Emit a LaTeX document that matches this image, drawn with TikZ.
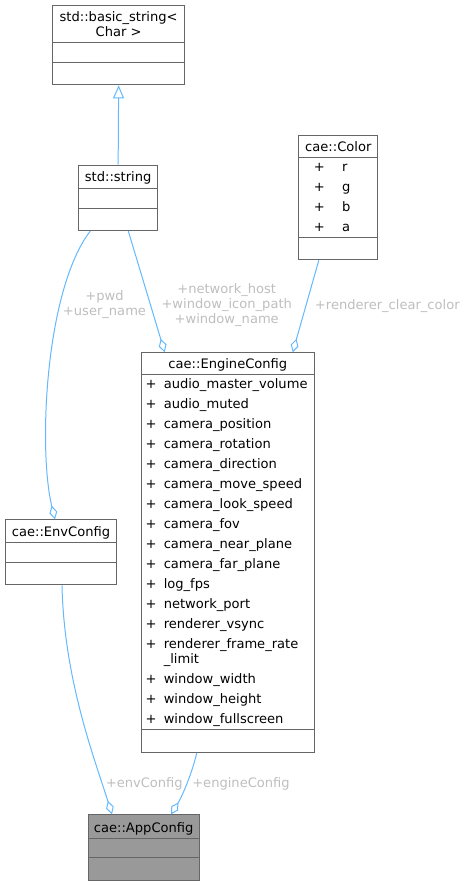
\documentclass[tikz,border=0pt]{standalone}
\usepackage{fontspec}
\setmainfont{DejaVu Sans}
\usepackage{tikz}
\usetikzlibrary{arrows.meta,calc}
\definecolor{BoxLine}{HTML}{666666}
\definecolor{EdgeBlue}{HTML}{63B8FF}
\definecolor{LabelGrey}{HTML}{BEBEBE}
\definecolor{FocusFill}{HTML}{999999}

\begin{document}
\begin{tikzpicture}[
  x=0.75pt, y=-0.75pt,
  font=\fontsize{9.8pt}{11.25pt}\selectfont,
  cls/.style={
    rectangle, draw=BoxLine, line width=0.75pt, fill=white,
    anchor=north west, inner sep=0pt
  },
  focus/.style={cls, fill=FocusFill},
  sep/.style={draw=BoxLine, line width=0.75pt},
  txt/.style={inner sep=0pt, text height=0.95em, text depth=0.23em},
  lbl/.style={text=LabelGrey, align=center, inner sep=0pt},
  inherit/.style={-{Triangle[open, length=9.75pt, width=8.25pt]}, draw=EdgeBlue, line width=0.75pt},
  member/.style={-{Diamond[open, length=10.5pt, width=6pt]}, draw=EdgeBlue, line width=0.75pt}
]
\useasboundingbox (0,0) rectangle (466,885);

% Class boxes
\node[cls, minimum width=131.7*0.75pt, minimum height=79.3*0.75pt] (bstr) at (52.3,5) {};
\node[cls, minimum width=78.7*0.75pt, minimum height=65.3*0.75pt] (str) at (78.3,164.7) {};
\node[cls, minimum width=79*0.75pt, minimum height=124.6*0.75pt] (color) at (298.3,134.7) {};
\node[cls, minimum width=173.3*0.75pt, minimum height=399.7*0.75pt] (engine) at (140.7,352.3) {};
\node[cls, minimum width=111*0.75pt, minimum height=65*0.75pt] (env) at (5,519.3) {};
\node[focus, minimum width=111*0.75pt, minimum height=65.7*0.75pt] (app) at (87.7,814.3) {};

% Compartment lines
\draw[sep] ($(bstr.north west)+(0,37.3)$) -- ($(bstr.north east)+(0,37.3)$);
\draw[sep] ($(bstr.north west)+(0,57.3)$) -- ($(bstr.north east)+(0,57.3)$);
\draw[sep] ($(str.north west)+(0,23.3)$) -- ($(str.north east)+(0,23.3)$);
\draw[sep] ($(str.north west)+(0,43.3)$) -- ($(str.north east)+(0,43.3)$);
\draw[sep] ($(color.north west)+(0,22.6)$) -- ($(color.north east)+(0,22.6)$);
\draw[sep] ($(color.north west)+(0,102.6)$) -- ($(color.north east)+(0,102.6)$);
\draw[sep] ($(engine.north west)+(0,22)$) -- ($(engine.north east)+(0,22)$);
\draw[sep] ($(engine.north west)+(0,377)$) -- ($(engine.north east)+(0,377)$);
\draw[sep] ($(env.north west)+(0,23.4)$) -- ($(env.north east)+(0,23.4)$);
\draw[sep] ($(env.north west)+(0,43)$) -- ($(env.north east)+(0,43)$);
\draw[sep] ($(app.north west)+(0,24)$) -- ($(app.north east)+(0,24)$);
\draw[sep] ($(app.north west)+(0,43.4)$) -- ($(app.north east)+(0,43.4)$);

% Titles
\node[align=center, inner sep=0pt] (bstrT) at ($(bstr.north)+(0,19.2)$) {std::basic\_string<\\Char >};
\node[txt] (strT) at ($(str.north)+(0,12)$) {std::string};
\node[txt] (colorT) at ($(color.north)+(0,11.5)$) {cae::Color};
\node[txt] (engineT) at ($(engine.north)+(0,11.5)$) {cae::EngineConfig};
\node[txt] (envT) at ($(env.north)+(0,12.5)$) {cae::EnvConfig};
\node[txt] (appT) at ($(app.north)+(0,13)$) {cae::AppConfig};

% Members of cae::Color
\foreach \dy/\attr [count=\i] in {32/r, 52/g, 72/b, 92/a} {
  \node[txt] (cp\i) at ($(color.north west)+(21,\dy)$) {+};
  \node[txt, anchor=west] (ca\i) at ($(color.north west)+(43.5,\dy)$) {\attr};
}

% Members of cae::EngineConfig
\foreach \dy/\attr [count=\i] in {31/audio\_master\_volume, 51/audio\_muted,
    71/camera\_position, 91/camera\_rotation, 111/camera\_direction,
    131/camera\_move\_speed, 151/camera\_look\_speed, 171/camera\_fov,
    191/camera\_near\_plane, 211/camera\_far\_plane, 231/log\_fps,
    251/network\_port, 271/renderer\_vsync, 291/renderer\_frame\_rate,
    326/window\_width, 346/window\_height, 366/window\_fullscreen} {
  \node[txt] (ep\i) at ($(engine.north west)+(10.3,\dy)$) {+};
  \node[txt, anchor=west] (ea\i) at ($(engine.north west)+(22.8,\dy)$) {\attr};
}
\node[txt, anchor=west] (eaLimit) at ($(engine.north west)+(22.8,306)$) {\_limit};

% Inheritance
\draw[inherit] (str.north) -- (bstr.south);

% Members (aggregation)
\draw[member] ($(str.south west)+(12,0)$) .. controls (45,290) and (38,450) .. ($(env.north west)+(50,0)$);
\draw[member] ($(str.south west)+(50,0)$) -- ($(engine.north west)+(24,0)$);
\draw[member] ($(color.south west)+(20.5,0)$) -- ($(engine.north west)+(152,0)$);
\draw[member] ($(env.south west)+(57,0)$) .. controls (64,680) and (95,760) .. ($(app.north west)+(24.3,0)$);
\draw[member] ($(engine.south west)+(56,0)$) .. controls (193,770) and (183,795) .. ($(app.north west)+(83.3,0)$);

% Edge labels
\node[lbl] (lpwd) at (104.5,304.7) {+pwd\\+user\_name};
\node[lbl] (lstrs) at (226.7,305.3) {+network\_host\\+window\_icon\_path\\+window\_name};
\node[lbl, txt] (lclr) at (387.3,305) {+renderer\_clear\_color};
\node[lbl, txt] (lenv) at (144.3,782.7) {+envConfig};
\node[lbl, txt] (leng) at (241,783) {+engineConfig};

\end{tikzpicture}
\end{document}
